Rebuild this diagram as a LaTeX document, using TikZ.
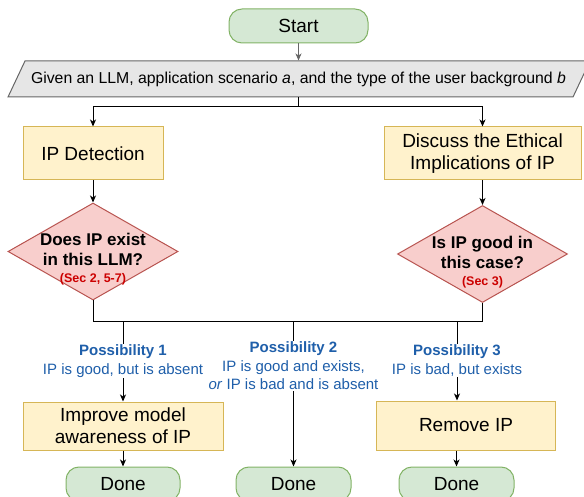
\documentclass[tikz,border=0pt]{standalone}
\usepackage{fontspec}
\setmainfont{Liberation Sans}
\usetikzlibrary{arrows.meta, shapes.geometric}
\definecolor{termfill}{HTML}{D5E8D4}
\definecolor{termline}{HTML}{82B366}
\definecolor{procfill}{HTML}{FFF2CC}
\definecolor{procline}{HTML}{D6B656}
\definecolor{decfill}{HTML}{F8CECC}
\definecolor{decline}{HTML}{B85450}
\definecolor{iofill}{HTML}{E6E6E6}
\definecolor{ioline}{HTML}{666666}
\definecolor{possblue}{HTML}{1F5FAA}
\definecolor{secred}{HTML}{CC0000}

\begin{document}
\begin{tikzpicture}[x=1pt, y=-1pt, line width=1pt, >={Stealth[length=7pt, width=6pt, inset=2pt]},
        terminal/.style={draw=termline, fill=termfill, rounded corners=13pt, minimum height=34pt, font=\fontsize{19}{22}\selectfont},
        process/.style={draw=procline, fill=procfill, align=center, font=\fontsize{19}{22}\selectfont},
        decision/.style={diamond, draw=decline, fill=decfill, minimum width=170pt, minimum height=97pt, inner sep=0pt},
        question/.style={align=center, font=\bfseries\fontsize{17}{20}\selectfont},
        outcome/.style={fill=white, align=center, text=possblue, inner sep=1pt, font=\fontsize{15}{18.5}\selectfont}]
        \useasboundingbox (0,0) rectangle (584,497);
        \clip (0,0) rectangle (584,497);

        % Start and input
        \node[terminal, minimum width=139pt] (start) at (298.5,26) {Start};
        \draw[ioline, fill=iofill] (8,97) -- (25,61) -- (590,61) -- (573,97) -- cycle;
        \node[minimum height=36pt, inner sep=0pt, font=\fontsize{15.8}{18}\selectfont] (given) at (298.5,79)
            {Given an LLM, application scenario \textit{a}, and the type of the user background \textit{b}};

        % First steps
        \node[process, minimum width=140pt, minimum height=53pt] (detect) at (93,153.5) {IP Detection};
        \node[process, minimum width=197pt, minimum height=53pt] (ethics) at (482.5,153.5) {Discuss the Ethical\\Implications of IP};

        % Decisions
        \node[decision] (exist) at (93,251.5) {};
        \node[question] (existq) at ([yshift=-8pt]exist.center) {Does IP exist\\in this LLM?\\[-3pt]{\color{secred}\fontsize{12.5}{14}\selectfont (Sec 2, 5-7)}};
        \node[decision] (good) at (482.5,254) {};
        \node[question] (goodq) at ([yshift=-8.5pt]good.center) {Is IP good in\\this case?\\[-3pt]{\color{secred}\fontsize{12.5}{14}\selectfont (Sec 3)}};

        % Actions
        \node[process, minimum width=200pt, minimum height=48pt] (improve) at (123,426) {Improve model\\awareness of IP};
        \node[process, minimum width=179pt, minimum height=49pt] (remove) at (466,425.5) {Remove IP};

        % Done
        \node[terminal, minimum width=114pt] (done1) at (123,484) {Done};
        \node[terminal, minimum width=115pt] (done2) at (293.5,484) {Done};
        \node[terminal, minimum width=115pt] (done3) at (456.5,484) {Done};

        % Junctions
        \coordinate (split) at ([yshift=-9pt]given.south);
        \coordinate (mleft) at (93,321);
        \coordinate (mright) at (482.5,321);
        \coordinate (b1) at (123,321);
        \coordinate (b2) at (293.5,321);
        \coordinate (b3) at (457,321);

        % Arrows
        \draw[->, ioline] (start.south) -- (given.north);
        \draw (given.south) -- (split);
        \draw[->] (split) -| (detect.north);
        \draw[->] (split) -| (ethics.north);
        \draw[->] (detect) -- (exist);
        \draw[->] (ethics) -- (good);
        \draw (exist.south) -- (mleft) -- (mright) -- (good.south);
        \draw[->] (b1) -- node[outcome] {\textbf{Possibility 1}\\IP is good, but is absent} (improve);
        \draw[->] (b2) -- node[outcome, pos=0.31] {\textbf{Possibility 2}\\IP is good and exists,\\\textit{or} IP is bad and is absent} (done2);
        \draw[->] (b3) -- node[outcome] {\textbf{Possibility 3}\\IP is bad, but exists} (b3 |- remove.north);
        \draw[->] (improve) -- (done1);
        \draw[->] (remove.south -| done3) -- (done3);
    \end{tikzpicture}
\end{document}
